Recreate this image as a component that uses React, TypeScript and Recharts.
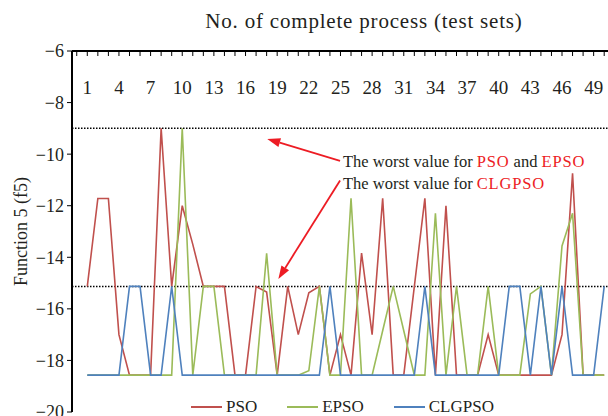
import React from 'react';
import { LineChart, Line, XAxis, YAxis, ReferenceLine, Legend } from 'recharts';

const runs = [
  1, 2, 3, 4, 5, 6, 7, 8, 9, 10, 11, 12, 13, 14, 15, 16, 17, 18, 19, 20, 21, 22, 23, 24, 25,
  26, 27, 28, 29, 30, 31, 32, 33, 34, 35, 36, 37, 38, 39, 40, 41, 42, 43, 44, 45, 46, 47, 48, 49, 50,
];

const psoValues = [
  -15.13, -11.72, -11.72, -17.0, -18.57, -18.57, -18.57, -9.0, -15.13, -12.0,
  -13.5, -15.13, -15.13, -15.13, -18.57, -18.57, -15.13, -15.35, -18.57, -15.13,
  -17.0, -15.38, -15.13, -18.57, -17.0, -18.57, -13.84, -17.0, -11.71, -18.57,
  -18.57, -15.14, -11.71, -18.57, -12.0, -18.57, -18.57, -18.57, -17.0, -18.57,
  -18.57, -18.57, -18.57, -18.57, -18.57, -17.0, -10.74, -18.57, -18.57, -18.57,
];

const epsoValues = [
  -18.57, -18.57, -18.57, -18.57, -18.57, -18.57, -18.57, -18.57, -18.57, -9.0,
  -18.57, -15.13, -15.13, -18.57, -18.57, -18.57, -18.57, -13.85, -18.57, -18.57,
  -18.57, -18.4, -15.13, -18.57, -18.57, -11.71, -18.57, -18.57, -16.85, -15.13,
  -16.85, -18.57, -18.57, -12.29, -18.57, -15.13, -18.57, -18.57, -15.13, -18.57,
  -18.57, -18.57, -15.42, -15.13, -18.57, -13.56, -12.29, -18.57, -18.57, -18.57,
];

const clgpsoValues = [
  -18.57, -18.57, -18.57, -18.57, -15.13, -15.13, -18.57, -18.57, -15.13, -18.57,
  -18.57, -18.57, -18.57, -18.57, -18.57, -18.57, -18.57, -18.57, -18.57, -18.57,
  -18.57, -18.57, -18.57, -15.13, -18.57, -18.57, -18.57, -18.57, -18.57, -18.57,
  -18.57, -18.57, -15.13, -18.57, -18.57, -18.57, -18.57, -18.57, -18.57, -18.57,
  -15.13, -15.13, -18.57, -15.13, -18.57, -15.13, -18.57, -18.57, -18.57, -15.13,
];

const xTicks = [
  0, 1, 2, 3, 4, 5, 6, 7, 8, 9, 10, 11, 12, 13, 14, 15, 16, 17, 18, 19, 20, 21, 22, 23, 24, 25,
  26, 27, 28, 29, 30, 31, 32, 33, 34, 35, 36, 37, 38, 39, 40, 41, 42, 43, 44, 45, 46, 47, 48, 49, 50,
];
const xLabelTicks = [1, 4, 7, 10, 13, 16, 19, 22, 25, 28, 31, 34, 37, 40, 43, 46, 49];
const yTicks = [-6, -8, -10, -12, -14, -16, -18, -20];

// worst values (dotted guides)
const worstPsoEpso = -9.0;
const worstClgpso = -15.13;

const data = runs.map((r, i) => ({
  run: r,
  PSO: psoValues[i],
  EPSO: epsoValues[i],
  CLGPSO: clgpsoValues[i],
}));

const FONT = '"Liberation Serif", "DejaVu Serif", serif';
const INK = '#231f20';
const RED = '#ed1c24';

const series = [
  { key: 'PSO', color: '#c0504d' },
  { key: 'EPSO', color: '#9bbb59' },
  { key: 'CLGPSO', color: '#4f81bd' },
];

const TopTick = (props: any) => {
  const { x, y, payload } = props;
  const show = xLabelTicks.includes(payload.value);
  return (
    <g>
      <line x1={x} x2={x} y1={y} y2={y + 5} stroke="#000" strokeWidth={1} />
      {show && (
        <text x={x} y={y + 43} textAnchor="middle" fontSize={19} fontFamily={FONT} fill={INK}>
          {payload.value}
        </text>
      )}
    </g>
  );
};

const Arrow = (p: any) => {
  const { x1, y1, x2, y2 } = p;
  const ang = Math.atan2(y2 - y1, x2 - x1);
  const L = 13;
  const W = 4.5;
  const bx = x2 - L * Math.cos(ang);
  const by = y2 - L * Math.sin(ang);
  const px = -Math.sin(ang) * W;
  const py = Math.cos(ang) * W;
  return (
    <g>
      <line x1={x1} y1={y1} x2={bx} y2={by} stroke={RED} strokeWidth={1.8} />
      <polygon points={`${x2},${y2} ${bx + px},${by + py} ${bx - px},${by - py}`} fill={RED} />
    </g>
  );
};

const LegendContent = () => (
  <div style={{ display: 'flex', gap: 30, fontFamily: FONT, fontSize: 17, color: INK }}>
    {series.map((s) => (
      <div key={s.key} style={{ display: 'flex', alignItems: 'center' }}>
        <span style={{ display: 'inline-block', width: 31, height: 2, background: s.color, marginRight: 4 }} />
        <span>{s.key}</span>
      </div>
    ))}
  </div>
);

export default function App() {
  return (
    <div style={{ position: 'absolute', left: 0, top: 0, width: 608, height: 416, background: '#fff', overflow: 'hidden' }}>
      <div
        style={{
          position: 'absolute', left: 0, width: 608, top: 9, textAlign: 'center', paddingLeft: 120,
          boxSizing: 'border-box', fontFamily: FONT, fontSize: 21, color: INK, letterSpacing: 0.8,
        }}
      >
        No. of complete process (test sets)
      </div>
      <LineChart width={608} height={416} data={data} margin={{ top: 21, right: 0, bottom: 4, left: 0 }}>
        <XAxis
          dataKey="run"
          type="number"
          orientation="top"
          height={30}
          domain={[-0.45, 50.36]}
          ticks={xTicks}
          interval={0}
          allowDataOverflow
          tickLine={false}
          tickSize={0}
          tickMargin={0}
          tick={<TopTick />}
          axisLine={{ stroke: '#000', strokeWidth: 2 }}
        />
        <YAxis
          type="number"
          domain={[-20, -6]}
          ticks={yTicks}
          interval={0}
          width={72}
          tickSize={5}
          tickMargin={3}
          tickFormatter={(v: number) => String(v).replace('-', '\u2212')}
          tick={{ fontSize: 18, fontFamily: FONT, fill: INK }}
          tickLine={{ stroke: '#000' }}
          axisLine={{ stroke: '#000', strokeWidth: 2 }}
          label={{
            value: 'Function 5 (f5)',
            angle: -90,
            position: 'insideLeft',
            offset: 21,
            style: { textAnchor: 'middle', fontSize: 18, fontFamily: FONT, fill: INK },
          }}
        />
        <ReferenceLine y={worstPsoEpso} stroke="#000" strokeWidth={1.5} strokeDasharray="1.5 1.5" />
        <ReferenceLine y={worstClgpso} stroke="#000" strokeWidth={1.5} strokeDasharray="1.5 1.5" />
        {series.map((s) => (
          <Line
            key={s.key}
            type="linear"
            dataKey={s.key}
            stroke={s.color}
            strokeWidth={1.6}
            dot={false}
            isAnimationActive={false}
          />
        ))}
        <ReferenceLine
          segment={[{ x: 24.96, y: -10.26 }, { x: 18.06, y: -9.41 }]}
          shape={<Arrow />}
        />
        <ReferenceLine
          segment={[{ x: 24.96, y: -11.02 }, { x: 19.11, y: -14.84 }]}
          shape={<Arrow />}
        />
        <Legend
          verticalAlign="middle"
          layout="horizontal"
          content={<LegendContent />}
          wrapperStyle={{ position: 'absolute', left: 191, top: 397, width: 'auto', height: 'auto' }}
        />
      </LineChart>
      <div
        style={{
          position: 'absolute', left: 343, top: 151, fontFamily: FONT, fontSize: 16.5,
          lineHeight: '22px', color: INK, whiteSpace: 'nowrap',
        }}
      >
        <div>
          The worst value for <span style={{ color: RED, letterSpacing: 0.8 }}>PSO</span> and{' '}
          <span style={{ color: RED, letterSpacing: 0.8 }}>EPSO</span>
        </div>
        <div>
          The worst value for <span style={{ color: RED, letterSpacing: 0.8 }}>CLGPSO</span>
        </div>
      </div>
    </div>
  );
}
